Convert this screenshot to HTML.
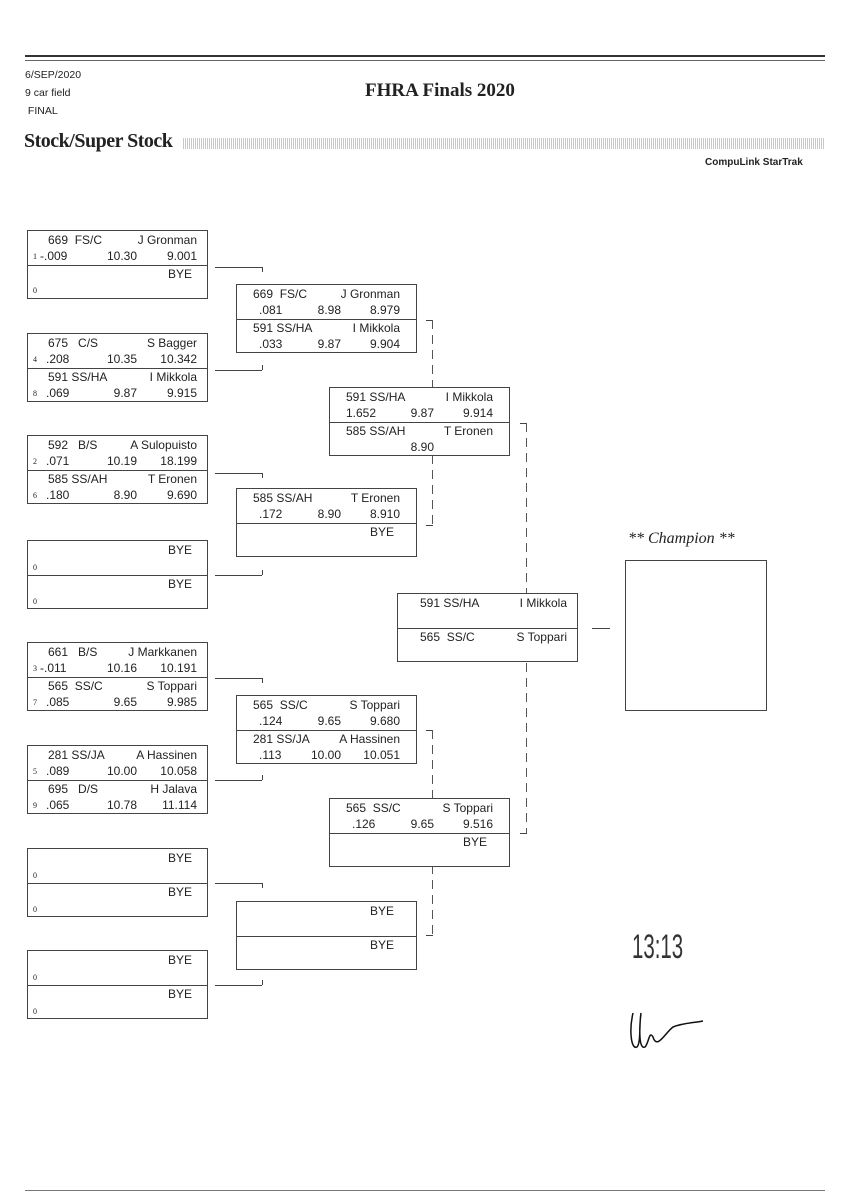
<!DOCTYPE html>
<html><head><meta charset="utf-8"><style>
body{margin:0;background:#fff;}
#p{position:relative;width:848px;height:1200px;overflow:hidden;font-family:"Liberation Sans",sans-serif;color:#222;}
.a{position:absolute;white-space:pre;}
.box{position:absolute;width:179px;height:67px;border:1px solid #444;background:#fff;font-size:12px;}
.box .d{position:absolute;left:0;right:0;top:34px;border-top:1px solid #444;}
.box span{position:absolute;white-space:pre;line-height:14px;}
.s{font-family:"Liberation Serif",serif;font-size:8px;}
.h{position:absolute;border-top:1px solid #444;}
.v{position:absolute;border-left:1px solid #444;}
.dv{position:absolute;width:1px;background:repeating-linear-gradient(180deg,#555 0 9px,transparent 9px 15px);}
</style></head><body><div id="p">
<div class="a" style="left:25px;top:55px;width:800px;border-top:2px solid #333;"></div>
<div class="a" style="left:25px;top:60px;width:800px;border-top:1px solid #666;"></div>
<div class="a" style="left:25px;top:66px;font-size:10.5px;line-height:18px;">6/SEP/2020
9 car field
 FINAL</div>
<div class="a" style="left:365px;top:80px;font-family:'Liberation Serif',serif;font-weight:bold;font-size:19px;">FHRA Finals 2020</div>
<div class="a" style="left:24px;top:130px;font-family:'Liberation Serif',serif;font-weight:bold;font-size:20px;letter-spacing:-0.5px;">Stock/Super Stock</div>
<div class="a" style="left:183px;top:138px;width:642px;height:11px;background:repeating-linear-gradient(90deg,#bbb 0 1px,#fff 1px 2px);opacity:.8"></div>
<div class="a" style="left:705px;top:157px;font-size:10px;font-weight:bold;">CompuLink StarTrak</div>

<!-- Round 1 -->
<div class="box" style="left:27px;top:230px"><div class="d"></div>
<span style="left:20px;top:2px">669  FS/C</span><span style="right:10px;top:2px">J Gronman</span>
<span class="s" style="left:5px;top:19px">1</span><span style="left:12px;top:18px">-.009</span><span style="right:70px;top:18px">10.30</span><span style="right:10px;top:18px">9.001</span>
<span style="right:15px;top:36px">BYE</span><span class="s" style="left:5px;top:53px">0</span></div>

<div class="box" style="left:27px;top:333px"><div class="d"></div>
<span style="left:20px;top:2px">675   C/S</span><span style="right:10px;top:2px">S Bagger</span>
<span class="s" style="left:5px;top:19px">4</span><span style="left:18px;top:18px">.208</span><span style="right:70px;top:18px">10.35</span><span style="right:10px;top:18px">10.342</span>
<span style="left:20px;top:36px">591 SS/HA</span><span style="right:10px;top:36px">I Mikkola</span>
<span class="s" style="left:5px;top:53px">8</span><span style="left:18px;top:52px">.069</span><span style="right:70px;top:52px">9.87</span><span style="right:10px;top:52px">9.915</span></div>

<div class="box" style="left:27px;top:435px"><div class="d"></div>
<span style="left:20px;top:2px">592   B/S</span><span style="right:10px;top:2px">A Sulopuisto</span>
<span class="s" style="left:5px;top:19px">2</span><span style="left:18px;top:18px">.071</span><span style="right:70px;top:18px">10.19</span><span style="right:10px;top:18px">18.199</span>
<span style="left:20px;top:36px">585 SS/AH</span><span style="right:10px;top:36px">T Eronen</span>
<span class="s" style="left:5px;top:53px">6</span><span style="left:18px;top:52px">.180</span><span style="right:70px;top:52px">8.90</span><span style="right:10px;top:52px">9.690</span></div>

<div class="box" style="left:27px;top:540px"><div class="d"></div>
<span style="right:15px;top:2px">BYE</span><span class="s" style="left:5px;top:20px">0</span>
<span style="right:15px;top:36px">BYE</span><span class="s" style="left:5px;top:54px">0</span></div>

<div class="box" style="left:27px;top:642px"><div class="d"></div>
<span style="left:20px;top:2px">661   B/S</span><span style="right:10px;top:2px">J Markkanen</span>
<span class="s" style="left:5px;top:19px">3</span><span style="left:12px;top:18px">-.011</span><span style="right:70px;top:18px">10.16</span><span style="right:10px;top:18px">10.191</span>
<span style="left:20px;top:36px">565  SS/C</span><span style="right:10px;top:36px">S Toppari</span>
<span class="s" style="left:5px;top:53px">7</span><span style="left:18px;top:52px">.085</span><span style="right:70px;top:52px">9.65</span><span style="right:10px;top:52px">9.985</span></div>

<div class="box" style="left:27px;top:745px"><div class="d"></div>
<span style="left:20px;top:2px">281 SS/JA</span><span style="right:10px;top:2px">A Hassinen</span>
<span class="s" style="left:5px;top:19px">5</span><span style="left:18px;top:18px">.089</span><span style="right:70px;top:18px">10.00</span><span style="right:10px;top:18px">10.058</span>
<span style="left:20px;top:36px">695   D/S</span><span style="right:10px;top:36px">H Jalava</span>
<span class="s" style="left:5px;top:53px">9</span><span style="left:18px;top:52px">.065</span><span style="right:70px;top:52px">10.78</span><span style="right:10px;top:52px">11.114</span></div>

<div class="box" style="left:27px;top:848px"><div class="d"></div>
<span style="right:15px;top:2px">BYE</span><span class="s" style="left:5px;top:20px">0</span>
<span style="right:15px;top:36px">BYE</span><span class="s" style="left:5px;top:54px">0</span></div>

<div class="box" style="left:27px;top:950px"><div class="d"></div>
<span style="right:15px;top:2px">BYE</span><span class="s" style="left:5px;top:20px">0</span>
<span style="right:15px;top:36px">BYE</span><span class="s" style="left:5px;top:54px">0</span></div>

<!-- R1 connectors -->
<div class="h" style="left:215px;top:267px;width:47px"></div><div class="v" style="left:262px;top:267px;height:5px"></div>
<div class="h" style="left:215px;top:370px;width:47px"></div><div class="v" style="left:262px;top:365px;height:5px"></div>
<div class="h" style="left:215px;top:473px;width:47px"></div><div class="v" style="left:262px;top:473px;height:5px"></div>
<div class="h" style="left:215px;top:575px;width:47px"></div><div class="v" style="left:262px;top:570px;height:5px"></div>
<div class="h" style="left:215px;top:678px;width:47px"></div><div class="v" style="left:262px;top:678px;height:5px"></div>
<div class="h" style="left:215px;top:780px;width:47px"></div><div class="v" style="left:262px;top:775px;height:5px"></div>
<div class="h" style="left:215px;top:883px;width:47px"></div><div class="v" style="left:262px;top:883px;height:5px"></div>
<div class="h" style="left:215px;top:985px;width:47px"></div><div class="v" style="left:262px;top:980px;height:5px"></div>

<!-- R2 connectors -->
<div class="h" style="left:426px;top:320px;width:7px"></div><div class="dv" style="left:432px;top:320px;height:205px"></div><div class="h" style="left:426px;top:525px;width:7px"></div>
<div class="h" style="left:426px;top:730px;width:7px"></div><div class="dv" style="left:432px;top:730px;height:205px"></div><div class="h" style="left:426px;top:935px;width:7px"></div>
<!-- R3 connectors -->
<div class="h" style="left:520px;top:423px;width:7px"></div><div class="dv" style="left:526px;top:423px;height:410px"></div><div class="h" style="left:520px;top:833px;width:7px"></div>
<div class="h" style="left:592px;top:628px;width:18px"></div>

<!-- Round 2 -->
<div class="box" style="left:236px;top:284px"><div class="d"></div>
<span style="left:16px;top:2px">669  FS/C</span><span style="right:16px;top:2px">J Gronman</span>
<span style="left:22px;top:18px">.081</span><span style="right:75px;top:18px">8.98</span><span style="right:16px;top:18px">8.979</span>
<span style="left:16px;top:36px">591 SS/HA</span><span style="right:16px;top:36px">I Mikkola</span>
<span style="left:22px;top:52px">.033</span><span style="right:75px;top:52px">9.87</span><span style="right:16px;top:52px">9.904</span></div>

<div class="box" style="left:236px;top:488px"><div class="d"></div>
<span style="left:16px;top:2px">585 SS/AH</span><span style="right:16px;top:2px">T Eronen</span>
<span style="left:22px;top:18px">.172</span><span style="right:75px;top:18px">8.90</span><span style="right:16px;top:18px">8.910</span>
<span style="right:22px;top:36px">BYE</span></div>

<div class="box" style="left:236px;top:695px"><div class="d"></div>
<span style="left:16px;top:2px">565  SS/C</span><span style="right:16px;top:2px">S Toppari</span>
<span style="left:22px;top:18px">.124</span><span style="right:75px;top:18px">9.65</span><span style="right:16px;top:18px">9.680</span>
<span style="left:16px;top:36px">281 SS/JA</span><span style="right:16px;top:36px">A Hassinen</span>
<span style="left:22px;top:52px">.113</span><span style="right:75px;top:52px">10.00</span><span style="right:16px;top:52px">10.051</span></div>

<div class="box" style="left:236px;top:901px"><div class="d"></div>
<span style="right:22px;top:2px">BYE</span><span style="right:22px;top:36px">BYE</span></div>

<!-- Round 3 -->
<div class="box" style="left:329px;top:387px"><div class="d"></div>
<span style="left:16px;top:2px">591 SS/HA</span><span style="right:16px;top:2px">I Mikkola</span>
<span style="left:16px;top:18px">1.652</span><span style="right:75px;top:18px">9.87</span><span style="right:16px;top:18px">9.914</span>
<span style="left:16px;top:36px">585 SS/AH</span><span style="right:16px;top:36px">T Eronen</span>
<span style="right:75px;top:52px">8.90</span></div>

<div class="box" style="left:329px;top:798px"><div class="d"></div>
<span style="left:16px;top:2px">565  SS/C</span><span style="right:16px;top:2px">S Toppari</span>
<span style="left:22px;top:18px">.126</span><span style="right:75px;top:18px">9.65</span><span style="right:16px;top:18px">9.516</span>
<span style="right:22px;top:36px">BYE</span></div>

<!-- Round 4 -->
<div class="box" style="left:397px;top:593px"><div class="d"></div>
<span style="left:22px;top:2px">591 SS/HA</span><span style="right:10px;top:2px">I Mikkola</span>
<span style="left:22px;top:36px">565  SS/C</span><span style="right:10px;top:36px">S Toppari</span></div>

<div class="a" style="left:628px;top:530px;font-family:'Liberation Serif',serif;font-style:italic;font-size:16px;">** Champion **</div>
<div class="a" style="left:625px;top:560px;width:140px;height:149px;border:1px solid #444;"></div>

<div class="a" style="left:632px;top:928px;font-family:'Liberation Sans',sans-serif;font-size:34px;font-weight:100;transform:scaleX(0.6);transform-origin:left;color:#333;">13:13</div>
<svg class="a" style="left:625px;top:1005px" width="100" height="50"><path d="M8 8 C4 25 6 45 12 42 C16 38 14 20 16 8 C14 25 14 45 20 42 C24 38 24 25 28 32 C32 45 40 28 48 22 C58 18 68 18 78 16" fill="none" stroke="#111" stroke-width="1.5"/></svg>

<div class="a" style="left:25px;top:1190px;width:800px;border-top:1px solid #777;"></div>
</div></body></html>
